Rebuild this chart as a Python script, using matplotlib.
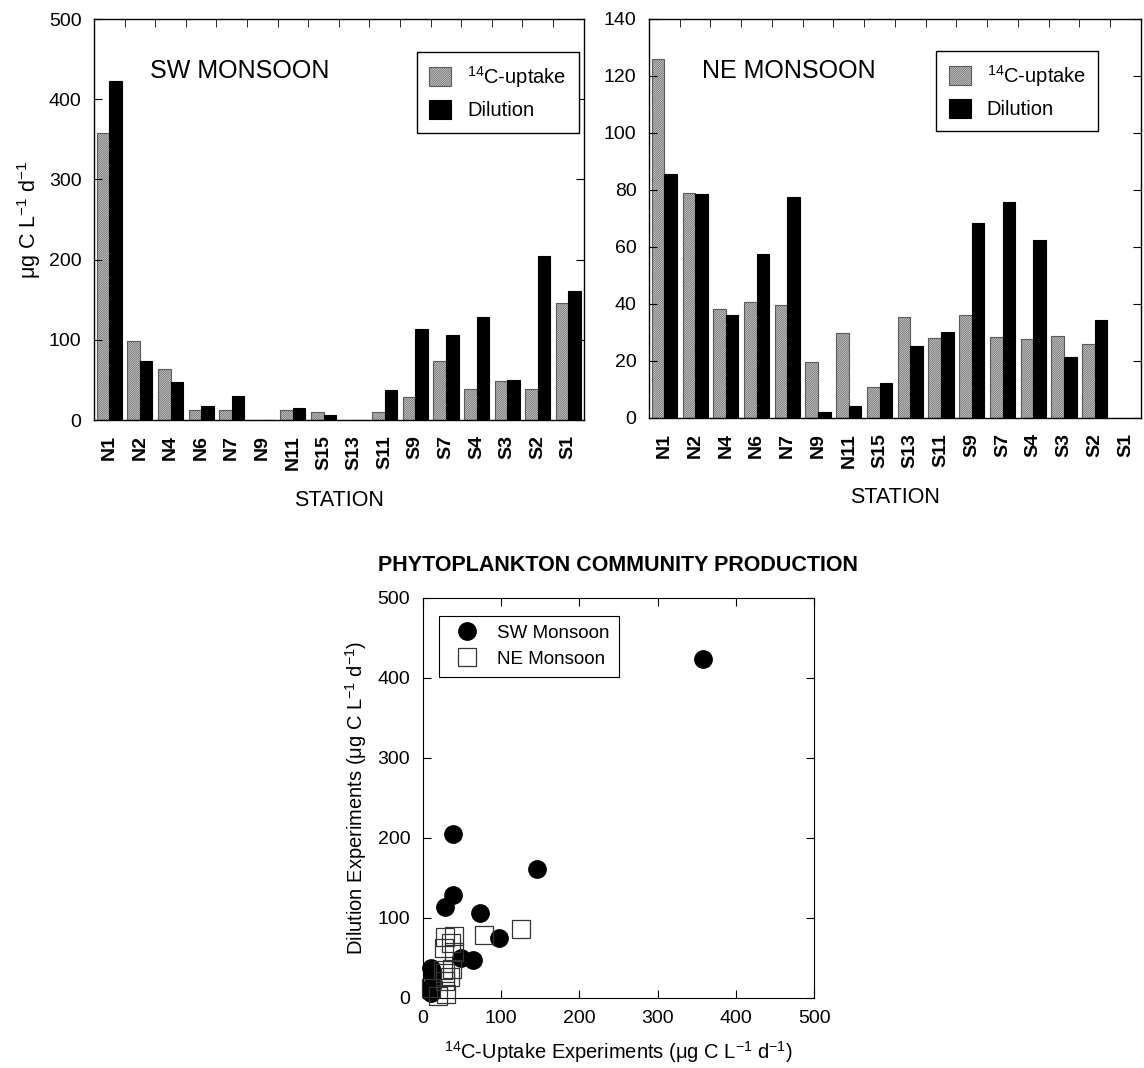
import matplotlib
matplotlib.use('Agg')
import numpy as np
import matplotlib.pyplot as plt

plt.rcParams['font.family'] = ['Liberation Sans', 'DejaVu Sans']
plt.rcParams['mathtext.fontset'] = 'custom'
plt.rcParams['mathtext.rm'] = 'Liberation Sans'
plt.rcParams['mathtext.it'] = 'Liberation Sans:italic'
plt.rcParams['mathtext.bf'] = 'Liberation Sans:bold'
plt.rcParams['hatch.linewidth'] = 0.55

# station order along the x axis
stations = ['N1', 'N2', 'N4', 'N6', 'N7', 'N9', 'N11', 'S15', 'S13', 'S11',
            'S9', 'S7', 'S4', 'S3', 'S2', 'S1']

# SW monsoon (ug C / L / d)
sw_c14 = [358, 98, 64, 13, 12, 0, 12, 10, 0, 10, 29, 73, 39, 49, 39, 146]
sw_dil = [423, 74, 47, 18, 30, 0, 15, 6, 0, 37, 113, 106, 128, 50, 205, 161]

# NE monsoon
ne_c14 = [126, 78.7, 38, 40.5, 39.4, 19.4, 29.6, 10.7, 35.4, 28, 36, 28.2, 27.7, 28.6, 25.8, 0]
ne_dil = [85.5, 78.4, 36, 57.3, 77.4, 1.9, 4, 12.1, 25.2, 30.2, 68.4, 75.7, 62.5, 21.2, 34.2, 0]

fig = plt.figure(figsize=(11.44, 10.68), dpi=100)

x = np.arange(len(stations))
w = 0.41


def bar_panel(ax, c14, dil, ymax, ystep, title, leg_anchor):
    ax.bar(x - w / 2, c14, width=w, facecolor='white', edgecolor='#5a5a5a',
           hatch='/' * 18, linewidth=0.8, label='$^{14}$C-uptake')
    ax.bar(x + w / 2, dil, width=w, color='black', edgecolor='black',
           linewidth=0.8, label='Dilution')
    ax.set_xlim(-0.5, len(stations) - 0.5)
    ax.set_ylim(0, ymax)
    ax.set_yticks(np.arange(0, ymax + 1, ystep))
    ax.set_xticks(x)
    ax.set_xticklabels(stations, rotation=90, fontsize=14, fontweight='bold')
    ax.set_xticks(x + 0.5, minor=True)
    ax.tick_params(axis='x', which='major', length=0, pad=11)
    ax.tick_params(axis='x', which='minor', top=True, bottom=False,
                   direction='in', length=6)
    ax.tick_params(axis='y', direction='in', right=True, length=6,
                   labelsize=14, pad=9)
    ax.set_xlabel('STATION', fontsize=15.5, labelpad=14)
    ax.text(leg_anchor[2], leg_anchor[3], title, transform=ax.transAxes,
            fontsize=18, va='center', ha='left')
    leg = ax.legend(loc='upper right', bbox_to_anchor=leg_anchor[:2],
                    borderaxespad=0, fontsize=14.5, fancybox=False,
                    edgecolor='black', framealpha=1, handlelength=1.1,
                    handleheight=1.1, borderpad=0.6, labelspacing=0.5)
    leg.get_frame().set_linewidth(1.0)
    for s in ax.spines.values():
        s.set_linewidth(1.0)


ax1 = fig.add_axes([0.0822, 0.6067, 0.428, 0.3755])
bar_panel(ax1, sw_c14, sw_dil, 500, 100, 'SW MONSOON', (0.99, 0.918, 0.114, 0.870))
ax1.set_ylabel('μg C L$^{-1}$ d$^{-1}$', fontsize=15.5, labelpad=4)

ax2 = fig.add_axes([0.5673, 0.6089, 0.430, 0.3736])
bar_panel(ax2, ne_c14, ne_dil, 140, 20, 'NE MONSOON', (0.913, 0.92, 0.107, 0.869))

# scatter of dilution vs 14C uptake
sw_x = [a for a, b in zip(sw_c14, sw_dil) if a > 0 and b > 0]
sw_y = [b for a, b in zip(sw_c14, sw_dil) if a > 0 and b > 0]
ne_x = [a for a, b in zip(ne_c14, ne_dil) if a > 0 and b > 0]
ne_y = [b for a, b in zip(ne_c14, ne_dil) if a > 0 and b > 0]

ax3 = fig.add_axes([0.3695, 0.066, 0.3422, 0.3745])
ax3.plot(sw_x, sw_y, 'o', color='black', markersize=12.5, label='SW Monsoon',
         clip_on=False)
ax3.plot(ne_x, ne_y, 's', markerfacecolor='none', markeredgecolor='#333333',
         markeredgewidth=0.9, markersize=12.5, label='NE Monsoon', clip_on=False)
ax3.set_xlim(0, 500)
ax3.set_ylim(0, 500)
ax3.set_xticks(np.arange(0, 501, 100))
ax3.set_yticks(np.arange(0, 501, 100))
ax3.tick_params(direction='in', top=True, right=True, length=6, labelsize=14,
                pad=9)
ax3.set_xlabel('$^{14}$C-Uptake Experiments (μg C L$^{-1}$ d$^{-1}$)',
               fontsize=14.5, labelpad=9)
ax3.set_ylabel('Dilution Experiments (μg C L$^{-1}$ d$^{-1}$)',
               fontsize=14.5, labelpad=6)
ax3.set_title('PHYTOPLANKTON COMMUNITY PRODUCTION', fontsize=15.5,
              fontweight='bold', pad=19)
leg3 = ax3.legend(loc='upper left', bbox_to_anchor=(0.042, 0.955), borderaxespad=0,
                  fontsize=13.5, fancybox=False, edgecolor='black', framealpha=1,
                  handletextpad=0.6, borderpad=0.5, labelspacing=0.45,
                  numpoints=1)
leg3.get_frame().set_linewidth(0.8)

fig.savefig('out.png', dpi=100)
